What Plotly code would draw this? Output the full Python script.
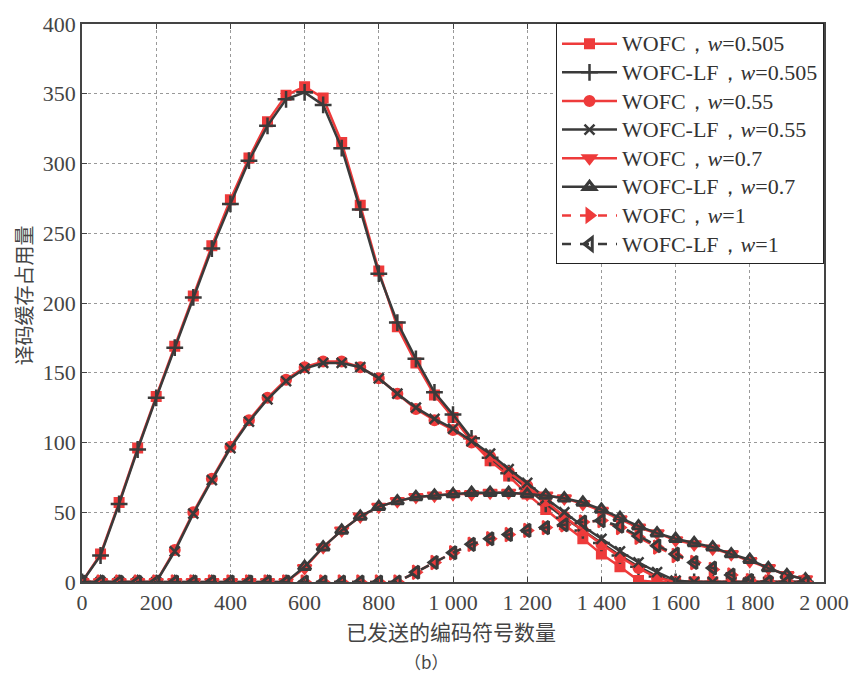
import plotly.graph_objects as go

x = list(range(0, 2000, 50))

wofc_0505 = [0, 20, 57, 96, 133, 169, 205, 241, 274, 304, 330, 349, 355, 347, 315, 270, 223, 183, 157, 134,
             118, 101, 87, 76, 63, 52, 41, 31, 20, 11, 1, 0, 0, 0, 0, 0, 0, 0, 0, 0]
lf_0505 = [0, 19, 56, 95, 132, 168, 204, 239, 271, 302, 327, 346, 351, 342, 311, 267, 221, 186, 160, 136,
           120, 103, 89, 78, 67, 56, 46, 37, 28, 19, 11, 4, 0, 0, 0, 0, 0, 0, 0, 0]
wofc_055 = [0, 0, 0, 0, 0, 23, 50, 74, 97, 116, 132, 145, 154, 158, 158, 154, 146, 135, 124, 116,
            109, 100, 90, 79, 69, 58, 47, 37, 27, 18, 10, 3, 0, 0, 0, 0, 0, 0, 0, 0]
lf_055 = [0, 0, 0, 0, 0, 22, 49, 73, 96, 115, 131, 144, 153, 157, 157, 154, 146, 135, 125, 117,
          110, 101, 92, 81, 71, 60, 50, 40, 31, 22, 14, 7, 1, 0, 0, 0, 0, 0, 0, 0]
wofc_07 = [0, 0, 0, 0, 0, 0, 0, 0, 0, 0, 0, 0, 10, 25, 37, 47, 54, 58, 61, 62,
           63, 63, 64, 64, 63, 62, 60, 56, 51, 45, 39, 35, 30, 27, 24, 20, 15, 10, 5, 2]
lf_07 = [0, 0, 0, 0, 0, 0, 0, 0, 0, 0, 0, 0, 11, 25, 37, 47, 54, 58, 61, 62,
         63, 64, 64, 64, 63, 62, 60, 57, 52, 46, 40, 35, 31, 28, 25, 20, 16, 10, 5, 2]
wofc_1 = [0, 0, 0, 0, 0, 0, 0, 0, 0, 0, 0, 0, 0, 0, 0, 0, 0, 0, 7, 14,
          21, 27, 31, 34, 37, 39, 41, 43, 44, 39, 32, 25, 19, 14, 9, 5, 1, 0, 0, 0]
lf_1 = [0, 0, 0, 0, 0, 0, 0, 0, 0, 0, 0, 0, 0, 0, 0, 0, 0, 0, 7, 14,
        21, 27, 31, 34, 37, 39, 41, 43, 44, 40, 33, 26, 20, 14, 10, 5, 1, 0, 0, 0]

labels = ["WOFC，<i>w</i>=0.505", "WOFC-LF，<i>w</i>=0.505",
          "WOFC，<i>w</i>=0.55", "WOFC-LF，<i>w</i>=0.55",
          "WOFC，<i>w</i>=0.7", "WOFC-LF，<i>w</i>=0.7",
          "WOFC，<i>w</i>=1", "WOFC-LF，<i>w</i>=1"]
series = [wofc_0505, lf_0505, wofc_055, lf_055, wofc_07, lf_07, wofc_1, lf_1]

RED = "#ee3b3b"
DARK = "#3a3a3a"
styles = [
    dict(color=RED, symbol="square", dash="solid", size=9, lw=2),
    dict(color=DARK, symbol="cross-thin", dash="solid", size=12, lw=2.5),
    dict(color=RED, symbol="circle", dash="solid", size=10, lw=2),
    dict(color=DARK, symbol="x-thin", dash="solid", size=10, lw=2.5),
    dict(color=RED, symbol="triangle-down", dash="solid", size=12, lw=2),
    dict(color=DARK, symbol="triangle-up-open", dash="solid", size=11, lw=3),
    dict(color=RED, symbol="triangle-right", dash="dash", size=12, lw=2),
    dict(color=DARK, symbol="triangle-left-open", dash="dash", size=11, lw=3),
]

fig = go.Figure()
for lab, ys, st in zip(labels, series, styles):
    fig.add_trace(go.Scatter(
        x=x, y=ys, name='<span style="font-size:22px">' + lab + '</span>', mode="lines+markers",
        line=dict(color=st["color"], width=2.5, dash=st["dash"]),
        marker=dict(symbol=st["symbol"], size=st["size"], color=st["color"],
                    line=dict(color=st["color"], width=st["lw"])),
    ))

xticks = [0, 200, 400, 600, 800, 1000, 1200, 1400, 1600, 1800, 2000]
xticktext = ["0", "200", "400", "600", "800", "1 000", "1 200", "1 400", "1 600", "1 800", "2 000"]
yticks = [0, 50, 100, 150, 200, 250, 300, 350, 400]

axis_common = dict(
    showline=True, linecolor="#444", linewidth=1.5, mirror="ticks",
    ticks="inside", ticklen=5, tickcolor="#444",
    showgrid=True, gridcolor="#999", griddash="dot", gridwidth=1,
    zeroline=False,
    tickfont=dict(family="Liberation Serif", size=22, color="#444"),
)

fig.update_layout(
    width=861, height=677,
    margin=dict(l=82, r=30, t=14, b=95),
    paper_bgcolor="white", plot_bgcolor="white",
    xaxis=dict(range=[0, 2000], tickvals=xticks, ticktext=xticktext, **axis_common),
    yaxis=dict(range=[0, 400], tickvals=yticks, **axis_common),
    legend=dict(
        x=1.0, y=1.001, xanchor="right", yanchor="top",
        bgcolor="white", bordercolor="#222", borderwidth=1,
        font=dict(family="Liberation Serif", size=19.7, color="#333"),
        tracegroupgap=0, itemwidth=55,
    ),
    showlegend=True,
    annotations=[
        dict(text="已发送的编码符号数量", xref="paper", yref="paper", x=0.497, y=-0.087,
             xanchor="center", yanchor="middle",
             showarrow=False, font=dict(family="Noto Sans CJK SC", size=21, color="#444")),
        dict(text="（b）", xref="paper", yref="paper", x=0.464, y=-0.143,
             xanchor="center", yanchor="middle",
             showarrow=False, font=dict(family="Noto Sans CJK SC", size=17, color="#444")),
        dict(text="译码缓存占用量", xref="paper", yref="paper", x=-0.079, y=0.514,
             xanchor="center", yanchor="middle",
             showarrow=False, textangle=-90,
             font=dict(family="Noto Sans CJK SC", size=20, color="#444")),
    ],
)

fig.write_html("out.html")
